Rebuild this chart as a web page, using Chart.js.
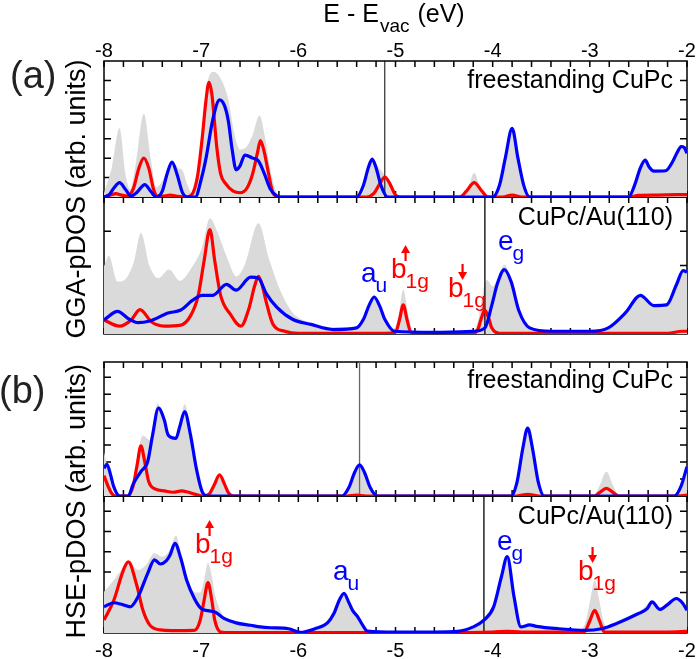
<!DOCTYPE html>
<html><head><meta charset="utf-8">
<script src="https://cdn.jsdelivr.net/npm/chart.js@4.4.1/dist/chart.umd.min.js"></script>
<style>html,body{margin:0;padding:0;background:#fff;}canvas{display:block;}</style>
</head><body>
<canvas id="c" width="696" height="659"></canvas>
<script>
// ---------- tick labels / categories ----------
const xTickValues = [-8, -7, -6, -5, -4, -3, -2];
const xTickLabels = ['-8', '-7', '-6', '-5', '-4', '-3', '-2'];
const panelNames = ['freestanding CuPc', 'CuPc/Au(110)', 'freestanding CuPc', 'CuPc/Au(110)'];
const fermiLevels = [-5.11, -4.08, -5.37, -4.09];
const panelMax = [7, 4, 7.9, 6.75];

// ---------- (a) GGA, freestanding ----------
const ggaFreeGray = [[-8,0.2],[-7.92,1.5],[-7.84,3.55],[-7.78,1.2],[-7.73,0.4],[-7.67,1.8],[-7.59,4.3],[-7.52,2.0],[-7.46,0.5],[-7.38,1.0],[-7.3,1.85],[-7.24,1.5],[-7.19,1.35],[-7.14,0.6],[-7.09,0.15],[-7.03,1.5],[-6.97,4.5],[-6.92,6.2],[-6.87,6.45],[-6.8,6.1],[-6.72,5.0],[-6.66,3.3],[-6.6,2.45],[-6.53,2.6],[-6.47,3.2],[-6.4,4.2],[-6.34,3.0],[-6.28,1.2],[-6.22,0.2],[-6.16,0],[-5.4,0],[-5.32,0.4],[-5.24,1.95],[-5.17,1.5],[-5.11,1.1],[-5.05,0.5],[-4.98,0],[-4.32,0],[-4.25,0.5],[-4.19,1.25],[-4.13,0.5],[-4.06,0],[-3.99,0],[-3.9,1.0],[-3.84,2.9],[-3.8,3.6],[-3.75,2.8],[-3.69,0.9],[-3.63,0],[-2.62,0],[-2.55,0.6],[-2.49,1.5],[-2.43,1.95],[-2.37,1.5],[-2.33,1.4],[-2.22,1.4],[-2.14,1.9],[-2.05,2.65],[-2,2.3]];
const ggaFreeRed = [[-8,0],[-7.93,0.1],[-7.88,0.17],[-7.82,0.1],[-7.76,0.05],[-7.7,0.4],[-7.64,1.5],[-7.59,2.0],[-7.54,1.5],[-7.49,0.4],[-7.45,0.05],[-7.38,0.05],[-7.32,0.1],[-7.26,0.05],[-7.16,0],[-7.1,0.1],[-7.04,1.0],[-6.99,3.0],[-6.95,5.0],[-6.92,5.9],[-6.89,5.3],[-6.84,2.6],[-6.8,1.2],[-6.75,0.7],[-6.67,0.3],[-6.6,0.22],[-6.53,0.45],[-6.47,1.2],[-6.42,2.3],[-6.39,2.9],[-6.35,2.3],[-6.31,1.3],[-6.26,0.2],[-6.2,0],[-5.3,0],[-5.22,0.2],[-5.16,0.7],[-5.11,1.03],[-5.06,0.7],[-5.0,0.1],[-4.95,0],[-4.34,0],[-4.27,0.3],[-4.19,0.74],[-4.11,0.3],[-4.05,0],[-3.9,0],[-3.8,0.1],[-3.7,0],[-2.6,0],[-2.5,0.08],[-2.3,0.1],[-2.1,0.12],[-2,0.12]];
const ggaFreeBlue = [[-8,0],[-7.95,0.1],[-7.9,0.45],[-7.84,0.74],[-7.78,0.4],[-7.72,0.05],[-7.66,0.25],[-7.58,0.64],[-7.52,0.3],[-7.46,0],[-7.4,0.3],[-7.35,1.2],[-7.3,1.8],[-7.25,1.2],[-7.19,0.2],[-7.14,0],[-7.06,0],[-7.0,0.9],[-6.95,2.0],[-6.88,4.0],[-6.81,5.0],[-6.76,4.7],[-6.72,3.9],[-6.68,2.4],[-6.64,1.4],[-6.6,1.6],[-6.55,2.16],[-6.47,2.0],[-6.41,1.85],[-6.35,1.2],[-6.29,0.43],[-6.22,0.05],[-6.18,0],[-5.4,0],[-5.33,0.6],[-5.28,1.5],[-5.24,1.95],[-5.2,1.5],[-5.15,0.6],[-5.08,0],[-4.0,0],[-3.93,0.6],[-3.87,2.0],[-3.8,3.53],[-3.74,2.0],[-3.68,0.6],[-3.62,0],[-2.6,0],[-2.54,0.6],[-2.48,1.5],[-2.43,1.9],[-2.39,1.55],[-2.34,1.33],[-2.22,1.35],[-2.15,1.8],[-2.1,2.3],[-2.06,2.6],[-2.03,2.55],[-2,2.25]];

// ---------- (a) GGA, CuPc/Au(110) ----------
const ggaAuGray = [[-8,1.98],[-7.95,2.28],[-7.86,1.53],[-7.77,1.63],[-7.69,2.13],[-7.62,2.95],[-7.53,1.98],[-7.44,1.63],[-7.33,1.88],[-7.22,1.55],[-7.11,1.88],[-6.99,2.53],[-6.91,3.38],[-6.84,3.03],[-6.72,2.13],[-6.64,1.68],[-6.55,2.03],[-6.41,3.23],[-6.3,2.18],[-6.18,1.23],[-6.06,0.63],[-5.87,0.33],[-5.64,0.2],[-5.4,0.2],[-5.33,0.45],[-5.27,0.9],[-5.22,1.13],[-5.16,0.8],[-5.1,0.4],[-5.03,0.1],[-4.97,0.5],[-4.92,1.3],[-4.87,0.6],[-4.82,0.06],[-4.5,0.04],[-4.2,0.06],[-4.15,0.4],[-4.1,1.2],[-4.06,1.58],[-4.0,1.4],[-3.95,1.6],[-3.88,2.02],[-3.81,1.6],[-3.73,0.75],[-3.62,0.25],[-3.4,0.1],[-3.0,0.1],[-2.81,0.2],[-2.61,0.7],[-2.48,1.15],[-2.34,0.85],[-2.21,0.9],[-2.11,1.45],[-2.05,1.87],[-2,1.83]];
const ggaAuRed = [[-8,0.41],[-7.84,0.23],[-7.72,0.41],[-7.63,0.71],[-7.51,0.35],[-7.38,0.23],[-7.22,0.25],[-7.11,0.53],[-7.03,1.13],[-6.97,2.13],[-6.91,3.05],[-6.86,2.13],[-6.8,1.13],[-6.7,0.58],[-6.59,0.23],[-6.51,0.73],[-6.45,1.4],[-6.41,1.68],[-6.37,1.4],[-6.33,0.93],[-6.26,0.28],[-6.14,0.08],[-6.0,0.02],[-5.1,0.02],[-5.0,0.05],[-4.96,0.4],[-4.92,0.85],[-4.88,0.4],[-4.84,0.05],[-4.2,0.02],[-4.15,0.15],[-4.12,0.43],[-4.08,0.7],[-4.04,0.45],[-4.01,0.18],[-3.93,0.02],[-2.2,0.02],[-2.05,0.08],[-2,0.08]];
const ggaAuBlue = [[-8,0.41],[-7.86,0.66],[-7.74,0.43],[-7.65,0.33],[-7.53,0.38],[-7.34,0.61],[-7.21,0.7],[-7.09,0.98],[-6.99,1.13],[-6.88,1.13],[-6.74,1.45],[-6.64,1.28],[-6.49,1.66],[-6.41,1.63],[-6.33,1.18],[-6.22,0.78],[-6.06,0.43],[-5.87,0.28],[-5.64,0.13],[-5.4,0.18],[-5.33,0.43],[-5.27,0.85],[-5.22,1.08],[-5.16,0.8],[-5.11,0.43],[-5.01,0.08],[-4.6,0.05],[-4.2,0.08],[-4.08,0.18],[-4.01,0.83],[-3.95,1.48],[-3.88,1.88],[-3.81,1.53],[-3.73,0.68],[-3.62,0.18],[-3.39,0.08],[-3.0,0.08],[-2.81,0.18],[-2.63,0.63],[-2.48,1.13],[-2.34,0.83],[-2.21,0.85],[-2.11,1.43],[-2.04,1.85],[-2,1.81]];

// ---------- (b) HSE, freestanding ----------
const hseFreeGray = [[-8,2.6],[-7.96,1.6],[-7.92,0.5],[-7.88,0],[-7.76,0],[-7.7,0.9],[-7.65,2.6],[-7.6,3.56],[-7.53,3.3],[-7.48,4.6],[-7.45,5.47],[-7.4,4.8],[-7.34,3.64],[-7.26,3.4],[-7.22,4.2],[-7.17,5.41],[-7.12,4.3],[-7.09,3.2],[-7.05,1.7],[-7.01,0.35],[-6.95,0.05],[-6.9,0.3],[-6.85,0.9],[-6.81,1.24],[-6.77,0.9],[-6.73,0.35],[-6.68,0],[-5.55,0],[-5.48,0.5],[-5.42,1.4],[-5.37,1.83],[-5.32,1.4],[-5.26,0.5],[-5.19,0],[-3.81,0],[-3.75,0.8],[-3.69,2.8],[-3.64,4.0],[-3.59,2.8],[-3.53,0.8],[-3.47,0],[-2.97,0],[-2.9,0.6],[-2.83,1.45],[-2.76,0.6],[-2.69,0],[-2.13,0],[-2.06,0.6],[-2,1.73]];
const hseFreeRed = [[-8,1.2],[-7.96,0.6],[-7.92,0.15],[-7.88,0],[-7.76,0],[-7.7,0.6],[-7.66,1.8],[-7.62,2.95],[-7.58,2.0],[-7.54,0.85],[-7.47,0.4],[-7.38,0.3],[-7.29,0.22],[-7.2,0.3],[-7.15,0.25],[-7.05,0.08],[-6.98,0],[-6.92,0.1],[-6.87,0.6],[-6.81,1.24],[-6.76,0.7],[-6.72,0.2],[-6.67,0],[-5.5,0],[-5.4,0.05],[-5.3,0],[-3.75,0],[-3.64,0.1],[-3.53,0],[-2.95,0],[-2.9,0.2],[-2.83,0.45],[-2.76,0.2],[-2.7,0],[-2.1,0],[-2,0.05]];
const hseFreeBlue = [[-8,1.63],[-7.97,1.87],[-7.93,1.2],[-7.9,0.55],[-7.84,0],[-7.75,0],[-7.7,0.7],[-7.62,1.44],[-7.55,2.03],[-7.5,3.6],[-7.44,5.18],[-7.38,4.49],[-7.34,3.6],[-7.26,3.4],[-7.22,4.1],[-7.17,4.98],[-7.11,3.6],[-7.05,1.63],[-6.99,0.26],[-6.93,0],[-5.55,0],[-5.48,0.5],[-5.42,1.4],[-5.37,1.83],[-5.32,1.4],[-5.26,0.5],[-5.19,0],[-3.81,0],[-3.75,0.8],[-3.69,2.8],[-3.64,4.0],[-3.59,2.8],[-3.53,0.8],[-3.47,0],[-2.13,0],[-2.06,0.6],[-2,1.73]];

// ---------- (b) HSE, CuPc/Au(110) ----------
const hseAuGray = [[-8,2.03],[-7.9,2.6],[-7.81,3.18],[-7.75,3.5],[-7.7,3.3],[-7.65,3.1],[-7.57,3.35],[-7.48,3.93],[-7.4,3.76],[-7.32,4.1],[-7.26,4.8],[-7.21,4.0],[-7.15,2.9],[-7.11,2.3],[-7.06,2.0],[-7.01,2.0],[-6.97,2.6],[-6.93,3.45],[-6.89,2.8],[-6.86,1.95],[-6.8,1.1],[-6.76,0.8],[-6.64,0.55],[-6.49,0.4],[-6.29,0.28],[-6.1,0.22],[-5.98,0.08],[-5.83,0.22],[-5.67,0.8],[-5.6,1.55],[-5.53,1.97],[-5.46,1.22],[-5.39,0.65],[-5.29,0.12],[-4.36,0.08],[-4.2,0.32],[-4.09,0.65],[-3.99,1.32],[-3.91,2.8],[-3.85,3.8],[-3.78,1.8],[-3.71,0.32],[-3.55,0.35],[-3.32,0.23],[-3.1,0.15],[-3.04,0.6],[-2.99,1.8],[-2.95,2.6],[-2.91,1.8],[-2.86,0.6],[-2.8,0.25],[-2.73,0.48],[-2.5,0.98],[-2.36,1.55],[-2.28,1.18],[-2.11,1.72],[-2,1.14]];
const hseAuRed = [[-8,0.64],[-7.9,1.6],[-7.8,3.1],[-7.75,3.5],[-7.66,2.3],[-7.6,1.13],[-7.53,0.4],[-7.42,0.15],[-7.3,0.12],[-7.07,0.13],[-7.01,0.63],[-6.97,1.6],[-6.93,2.48],[-6.89,1.6],[-6.86,0.63],[-6.8,0.05],[-6.7,0.02],[-4.5,0.02],[-4.0,0.05],[-3.85,0.08],[-3.7,0.05],[-3.06,0.05],[-3.0,0.6],[-2.95,1.12],[-2.9,0.6],[-2.85,0.05],[-2.2,0.05],[-2,0.08]];
const hseAuBlue = [[-8,1.29],[-7.9,1.49],[-7.81,1.4],[-7.73,1.29],[-7.65,1.78],[-7.55,2.94],[-7.48,3.6],[-7.42,3.4],[-7.36,3.55],[-7.32,3.84],[-7.27,4.42],[-7.21,3.68],[-7.15,2.61],[-7.07,1.7],[-7.0,1.2],[-6.93,1.1],[-6.86,1.04],[-6.76,0.71],[-6.64,0.5],[-6.49,0.38],[-6.39,0.3],[-6.29,0.26],[-6.1,0.21],[-5.98,0.03],[-5.83,0.21],[-5.7,0.5],[-5.63,1.0],[-5.58,1.6],[-5.53,1.95],[-5.48,1.5],[-5.44,1.1],[-5.39,0.8],[-5.34,0.4],[-5.29,0.1],[-5.0,0.05],[-4.6,0.05],[-4.36,0.08],[-4.2,0.3],[-4.09,0.63],[-3.99,1.29],[-3.91,2.77],[-3.85,3.76],[-3.78,1.78],[-3.71,0.3],[-3.62,0.4],[-3.55,0.33],[-3.32,0.21],[-3.05,0.13],[-2.88,0.21],[-2.73,0.46],[-2.5,0.96],[-2.41,1.2],[-2.36,1.53],[-2.28,1.16],[-2.2,1.4],[-2.11,1.7],[-2.05,1.5],[-2,1.12]];

// ---------- build ----------
const FONT = "'Liberation Sans', Arial, Helvetica, sans-serif";
const F = (s) => s + 'px ' + FONT;
const RED = '#ff0000', BLUE = '#0000ff', GRAY = '#dadada';
const panelIds = ['p1', 'p2', 'p3', 'p4'];
const panelSeries = [
  [ggaFreeGray, ggaFreeRed, ggaFreeBlue],
  [ggaAuGray, ggaAuRed, ggaAuBlue],
  [hseFreeGray, hseFreeRed, hseFreeBlue],
  [hseAuGray, hseAuRed, hseAuBlue]
];
const pts = (arr) => arr.map(([x, y]) => ({x, y}));
const datasets = [];
panelSeries.forEach((s, i) => {
  const common = {xAxisID: 'x', yAxisID: panelIds[i], pointRadius: 0, cubicInterpolationMode: 'monotone', panelIndex: i};
  datasets.push(Object.assign({}, common, {data: pts(s[0]), fill: 'origin', backgroundColor: GRAY, borderColor: 'rgba(0,0,0,0)', borderWidth: 0, order: 3, isFill: true}));
  datasets.push(Object.assign({}, common, {data: pts(s[1]), fill: false, borderColor: RED, borderWidth: 3.2, order: 2}));
  datasets.push(Object.assign({}, common, {data: pts(s[2]), fill: false, borderColor: BLUE, borderWidth: 3.2, order: 1}));
});

const panelHeights = [136, 137, 134, 137];
const scales = {
  x: {type: 'linear', min: -8, max: -2, display: false},
  p1: {type: 'linear', position: 'right', stack: 'v', stackWeight: panelHeights[0], weight: 1, min: 0, max: panelMax[0], display: false},
  p2: {type: 'linear', position: 'right', stack: 'v', stackWeight: panelHeights[1], weight: 2, min: 0, max: panelMax[1], display: false},
  gap: {type: 'linear', position: 'right', stack: 'v', stackWeight: 28, weight: 3, min: 0, max: 1, display: false},
  p3: {type: 'linear', position: 'right', stack: 'v', stackWeight: panelHeights[2], weight: 4, min: 0, max: panelMax[2], display: false},
  p4: {type: 'linear', position: 'right', stack: 'v', stackWeight: panelHeights[3], weight: 5, min: 0, max: panelMax[3], display: false}
};

const annotations = [
  {main: 'a', sub: 'u', color: BLUE, x: 361, base: 282},
  {main: 'b', sub: '1g', color: RED, x: 391, base: 278, arrow: 'up'},
  {main: 'b', sub: '1g', color: RED, x: 448, base: 297, arrow: 'down'},
  {main: 'e', sub: 'g', color: BLUE, x: 498, base: 250},
  {main: 'b', sub: '1g', color: RED, x: 195, base: 553, arrow: 'up'},
  {main: 'a', sub: 'u', color: BLUE, x: 333, base: 580},
  {main: 'e', sub: 'g', color: BLUE, x: 497, base: 550},
  {main: 'b', sub: '1g', color: RED, x: 578, base: 580, arrow: 'down'}
];

function drawArrow(ctx, x, y0, y1, dir, color) {
  ctx.save();
  ctx.strokeStyle = color; ctx.fillStyle = color; ctx.lineWidth = 2.2;
  ctx.beginPath();
  if (dir === 'up') { ctx.moveTo(x, y1); ctx.lineTo(x, y0 + 6); }
  else { ctx.moveTo(x, y0); ctx.lineTo(x, y1 - 6); }
  ctx.stroke();
  ctx.beginPath();
  if (dir === 'up') { ctx.moveTo(x, y0); ctx.lineTo(x - 4.5, y0 + 8); ctx.lineTo(x + 4.5, y0 + 8); }
  else { ctx.moveTo(x, y1); ctx.lineTo(x - 4.5, y1 - 8); ctx.lineTo(x + 4.5, y1 - 8); }
  ctx.closePath(); ctx.fill();
  ctx.restore();
}

const deco = {
  id: 'deco',
  beforeDatasetsDraw(chart) {
    const ctx = chart.ctx, xs = chart.scales.x;
    ctx.save();
    ctx.strokeStyle = '#000'; ctx.lineWidth = 1.5;
    panelIds.forEach((id) => {
      const ys = chart.scales[id];
      const L = xs.left, R = xs.right, T = ys.top, B = ys.bottom;
      ctx.strokeRect(L, T, R - L, B - T);
      ctx.beginPath();
      for (let k = 0; k <= 30; k++) {
        const px = xs.getPixelForValue(-8 + k * 0.2);
        ctx.moveTo(px, T); ctx.lineTo(px, T + 6);
        ctx.moveTo(px, B); ctx.lineTo(px, B - 6);
      }
      for (let v = 1; v < ys.max; v++) {
        const py = ys.getPixelForValue(v);
        ctx.moveTo(L, py); ctx.lineTo(L + 7, py);
        ctx.moveTo(R, py); ctx.lineTo(R - 7, py);
      }
      ctx.stroke();
    });
    ctx.restore();
  },
  afterDatasetDraw(chart, args) {
    const ds = chart.data.datasets[args.index];
    if (!ds.isFill) return;
    const i = ds.panelIndex;
    const ctx = chart.ctx, xs = chart.scales.x, ys = chart.scales[panelIds[i]];
    const px = xs.getPixelForValue(fermiLevels[i]);
    ctx.save();
    ctx.strokeStyle = i === 2 ? '#666' : '#000';
    ctx.lineWidth = i === 0 ? 1 : 1.3;
    ctx.beginPath(); ctx.moveTo(px, ys.top); ctx.lineTo(px, ys.bottom); ctx.stroke();
    ctx.restore();
  },
  afterDraw(chart) {
    const ctx = chart.ctx, xs = chart.scales.x;
    const top = chart.scales.p1.top, bottom = chart.scales.p4.bottom;
    ctx.save();
    ctx.fillStyle = '#000';
    ctx.textBaseline = 'alphabetic';
    // tick labels
    ctx.font = F(20); ctx.textAlign = 'center';
    xTickValues.forEach((v, k) => {
      const px = xs.getPixelForValue(v);
      ctx.fillText(xTickLabels[k], px, top - 4);
      ctx.fillText(xTickLabels[k], px, bottom + 23.5);
    });
    // title E - E_vac (eV)
    ctx.textAlign = 'left';
    ctx.font = F(25); const w1 = ctx.measureText('E - E').width;
    ctx.font = F(19); const w2 = ctx.measureText('vac').width;
    ctx.font = F(25); const w3 = ctx.measureText(' (eV)').width;
    let tx = 394 - (w1 + w2 + w3 + 2) / 2;
    ctx.font = F(25); ctx.fillText('E - E', tx, 22); tx += w1 + 1;
    ctx.font = F(19); ctx.fillText('vac', tx, 32); tx += w2 + 1;
    ctx.font = F(25); ctx.fillText(' (eV)', tx, 22);
    // y titles
    ctx.font = F(27);
    [['GGA-pDOS (arb. units)', 338.5], ['HSE-pDOS (arb. units)', 638.5]].forEach(([t, y]) => {
      ctx.save(); ctx.translate(85, y); ctx.rotate(-Math.PI / 2);
      ctx.textAlign = 'left'; ctx.fillText(t, 0, 0); ctx.restore();
    });
    // (a), (b)
    ctx.fillStyle = '#222'; ctx.font = F(38); ctx.textAlign = 'left';
    ctx.fillText('(a)', 10, 88);
    ctx.fillText('(b)', -1, 403);
    // panel names
    ctx.fillStyle = '#000'; ctx.font = F(25); ctx.textAlign = 'right';
    const nameBase = [87.5, 225, 387.5, 524];
    panelNames.forEach((n, i) => ctx.fillText(n, 673, nameBase[i]));
    // orbital annotations
    ctx.textAlign = 'left';
    annotations.forEach((a) => {
      ctx.fillStyle = a.color;
      ctx.font = F(28); ctx.fillText(a.main, a.x, a.base);
      const w = ctx.measureText(a.main).width;
      ctx.font = F(21); ctx.fillText(a.sub, a.x + w - 1, a.base + 10);
      if (a.arrow) drawArrow(ctx, a.x + w - 1, a.base - 33, a.base - 17, a.arrow, a.color);
    });
    ctx.restore();
  }
};

new Chart(document.getElementById('c'), {
  type: 'line',
  data: {datasets},
  options: {
    responsive: false, animation: false, devicePixelRatio: 1, events: [],
    layout: {padding: {left: 104, right: 9, top: 61, bottom: 26}},
    scales,
    plugins: {legend: {display: false}, tooltip: {enabled: false}, title: {display: false}}
  },
  plugins: [deco]
});
</script>
</body></html>
